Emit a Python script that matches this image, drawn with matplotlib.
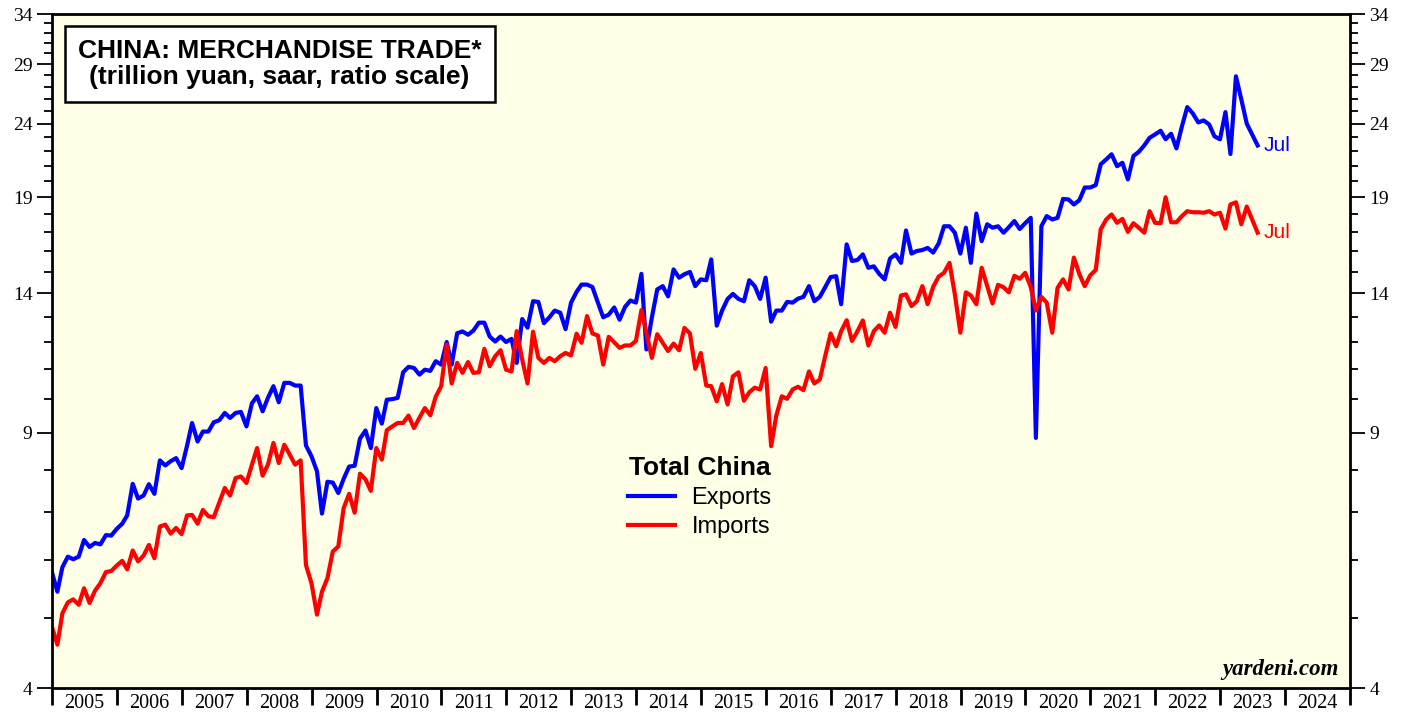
import numpy as np
import pandas as pd
import matplotlib
matplotlib.use("Agg")
import matplotlib.pyplot as plt
import matplotlib.dates as mdates
from matplotlib.ticker import FixedLocator, NullFormatter, FixedFormatter

# monthly, Dec 2004 .. Jul 2023 (trillion yuan, saar)
exports = [
    5.78, 5.43, 5.87, 6.07, 6.02, 6.07, 6.40, 6.26, 6.34, 6.31, 6.50, 6.49,
    6.63, 6.74, 6.92, 7.65, 7.30, 7.37, 7.64, 7.41, 8.24, 8.11, 8.22, 8.30,
    8.04, 8.64, 9.28, 8.75, 9.03, 9.03, 9.30, 9.36, 9.58, 9.43, 9.58, 9.61,
    9.18, 9.88, 10.10, 9.63, 10.05, 10.43, 9.91, 10.54, 10.54, 10.45, 10.45,
    8.64, 8.35, 7.96, 6.96, 7.70, 7.68, 7.43, 7.77, 8.08, 8.10, 8.83, 9.06,
    8.57, 9.73, 9.26, 9.99, 10.01, 10.05, 10.90, 11.09, 11.05, 10.82, 10.99,
    10.95, 11.29, 11.17, 12.00, 11.17, 12.34, 12.41, 12.28, 12.44, 12.76,
    12.76, 12.21, 12.02, 12.21, 12.00, 12.12, 11.23, 12.91, 12.56, 13.66,
    13.63, 12.74, 12.98, 13.26, 13.17, 12.50, 13.60, 14.07, 14.40, 14.40,
    14.29, 13.60, 12.98, 13.09, 13.39, 12.88, 13.42, 13.69, 13.60, 14.90,
    11.72, 12.98, 14.18, 14.33, 13.87, 15.11, 14.72, 14.88, 14.99, 14.33,
    14.64, 14.60, 15.60, 12.64, 13.26, 13.76, 13.98, 13.76, 13.66, 14.60,
    14.33, 13.76, 14.72, 12.80, 13.26, 13.26, 13.63, 13.60, 13.77, 13.85,
    14.33, 13.66, 13.85, 14.28, 14.75, 14.79, 13.53, 16.36, 15.52, 15.57,
    15.85, 15.19, 15.26, 14.90, 14.64, 15.64, 15.85, 15.43, 17.10, 15.89,
    16.02, 16.07, 16.18, 15.94, 16.41, 17.33, 17.33, 16.98, 15.89, 17.25,
    15.43, 18.04, 16.53, 17.44, 17.25, 17.33, 16.98, 17.28, 17.62, 17.18,
    17.50, 17.80, 8.85, 17.33, 17.90, 17.71, 17.80, 18.90, 18.87, 18.57,
    18.83, 19.60, 19.60, 19.75, 21.10, 21.43, 21.78, 20.97, 21.20, 20.11,
    21.66, 21.95, 22.40, 22.95, 23.20, 23.47, 22.85, 23.25, 22.19, 23.80,
    25.30, 24.80, 24.10, 24.25, 23.95, 23.06, 22.84, 24.90, 21.80, 27.90,
    25.94, 24.00, 23.20, 22.40,
]
imports = [
    4.86, 4.59, 5.07, 5.25, 5.30, 5.21, 5.49, 5.24, 5.45, 5.58, 5.78, 5.80,
    5.90, 5.99, 5.83, 6.19, 5.98, 6.09, 6.30, 6.04, 6.68, 6.72, 6.53, 6.65,
    6.52, 6.92, 6.93, 6.74, 7.04, 6.90, 6.88, 7.21, 7.55, 7.37, 7.79, 7.83,
    7.67, 8.13, 8.57, 7.85, 8.13, 8.71, 8.17, 8.66, 8.39, 8.13, 8.24,
    5.91, 5.58, 5.05, 5.43, 5.67, 6.17, 6.27, 7.08, 7.41, 6.98, 7.90, 7.76,
    7.48, 8.57, 8.26, 9.07, 9.18, 9.28, 9.28, 9.50, 9.13, 9.44, 9.73, 9.51,
    10.08, 10.43, 11.90, 10.52, 11.23, 10.88, 11.26, 10.88, 10.90, 11.74,
    11.11, 11.47, 11.69, 10.99, 10.93, 12.42, 11.35, 10.52, 12.40, 11.41,
    11.23, 11.41, 11.29, 11.47, 11.59, 11.50, 12.32, 11.97, 13.03, 12.33,
    12.25, 11.17, 12.20, 11.99, 11.78, 11.87, 11.87, 12.04, 13.28, 12.36,
    11.41, 12.30, 11.97, 11.66, 11.94, 11.69, 12.55, 12.33, 11.02, 11.59,
    10.45, 10.43, 9.94, 10.50, 9.84, 10.76, 10.90, 9.96, 10.23, 10.38,
    10.32, 11.05, 8.62, 9.50, 10.10, 10.02, 10.32, 10.41, 10.30, 10.93,
    10.52, 10.65, 11.47, 12.33, 11.84, 12.42, 12.86, 12.04, 12.42, 12.85,
    11.87, 12.42, 12.65, 12.36, 13.17, 12.59, 13.91, 13.96, 13.45, 13.66,
    14.33, 13.53, 14.30, 14.77, 14.95, 15.43, 13.96, 12.36, 14.05, 13.91,
    13.53, 15.19, 14.34, 13.56, 14.39, 14.28, 14.05, 14.81, 14.67, 14.95,
    14.29, 13.26, 13.85, 13.60, 12.36, 14.25, 14.64, 14.18, 15.69, 14.88,
    14.33, 14.83, 15.08, 17.16, 17.71, 17.99, 17.52, 17.74, 17.02, 17.50,
    17.25, 16.98, 18.18, 17.52, 17.50, 19.00, 17.55, 17.55, 17.90, 18.18,
    18.12, 18.12, 18.09, 18.18, 17.99, 18.09, 17.20, 18.57, 18.70, 17.44,
    18.45, 17.71, 16.98,
]
dates = pd.date_range("2004-12-31", periods=len(exports), freq="ME")

years = list(range(2005, 2025))
yticks = [4, 9, 14, 19, 24, 29, 34]

plt.rcParams["font.family"] = ["Liberation Sans", "DejaVu Sans"]

fig = plt.figure(figsize=(14.07, 7.19), dpi=100)
ax = fig.add_axes([0.037, 0.0431, 0.9225, 0.9374])
ax.set_facecolor("#fffee6")

ax.plot(dates, exports, color="#0000ff", lw=3.0, label="Exports")
ax.plot(dates, imports, color="#ff0000", lw=3.0, label="Imports")

ax.set_yscale("log")
ax.set_ylim(4, 34)
ax.yaxis.set_major_locator(FixedLocator(yticks))
ax.yaxis.set_major_formatter(FixedFormatter([str(v) for v in yticks]))
ax.yaxis.set_minor_locator(FixedLocator([v for v in range(5, 34) if v not in yticks]))
ax.yaxis.set_minor_formatter(NullFormatter())

ax.set_xlim(pd.Timestamp("2005-01-01"), pd.Timestamp("2025-01-01"))
ax.xaxis.set_major_locator(FixedLocator([mdates.date2num(pd.Timestamp(f"{y}-01-01")) for y in years + [2025]]))
ax.xaxis.set_major_formatter(NullFormatter())
ax.xaxis.set_minor_locator(FixedLocator([mdates.date2num(pd.Timestamp(f"{y}-07-02")) for y in years]))
ax.xaxis.set_minor_formatter(FixedFormatter([str(y) for y in years]))

for s in ax.spines.values():
    s.set_linewidth(2)

ax.tick_params(axis="y", which="both", left=True, right=True, labelleft=True, labelright=True,
               direction="out", width=1.3, labelsize=14, labelfontfamily="Liberation Serif")
ax.tick_params(axis="y", which="major", length=11, pad=3)
ax.tick_params(axis="y", which="minor", length=6)
ax.tick_params(axis="x", which="major", direction="out", length=12, width=2, bottom=True, top=False)
ax.tick_params(axis="x", which="minor", length=0, pad=4, labelsize=14.5, labelfontfamily="Liberation Serif")

ax.text(0.1753, 0.926, "CHINA: MERCHANDISE TRADE*\n(trillion yuan, saar, ratio scale)",
        transform=ax.transAxes, ha="center", va="center", multialignment="center",
        fontsize=19, fontweight="bold", linespacing=1.1,
        bbox=dict(boxstyle="square,pad=0.5", fc="white", ec="black", lw=1.8))

leg = ax.legend(loc="center", bbox_to_anchor=(0.499, 0.283), frameon=False, fontsize=17,
                title="Total China", title_fontproperties={"weight": "bold", "size": 19},
                handlelength=2.0, handletextpad=0.7, labelspacing=0.3, borderpad=0.2)
for h in leg.get_lines():
    h.set_linewidth(3.0)

ax.annotate("Jul", (dates[-1], exports[-1]), xytext=(4, 0), textcoords="offset points",
            color="#0000ff", fontsize=15, va="center", ha="left")
ax.annotate("Jul", (dates[-1], imports[-1]), xytext=(4, 0), textcoords="offset points",
            color="#ff0000", fontsize=15, va="center", ha="left")

ax.text(0.991, 0.012, "yardeni.com", transform=ax.transAxes, ha="right", va="bottom",
        fontsize=16.5, fontweight="bold", fontstyle="italic", family="Liberation Serif")

fig.savefig("out.png", dpi=100)
